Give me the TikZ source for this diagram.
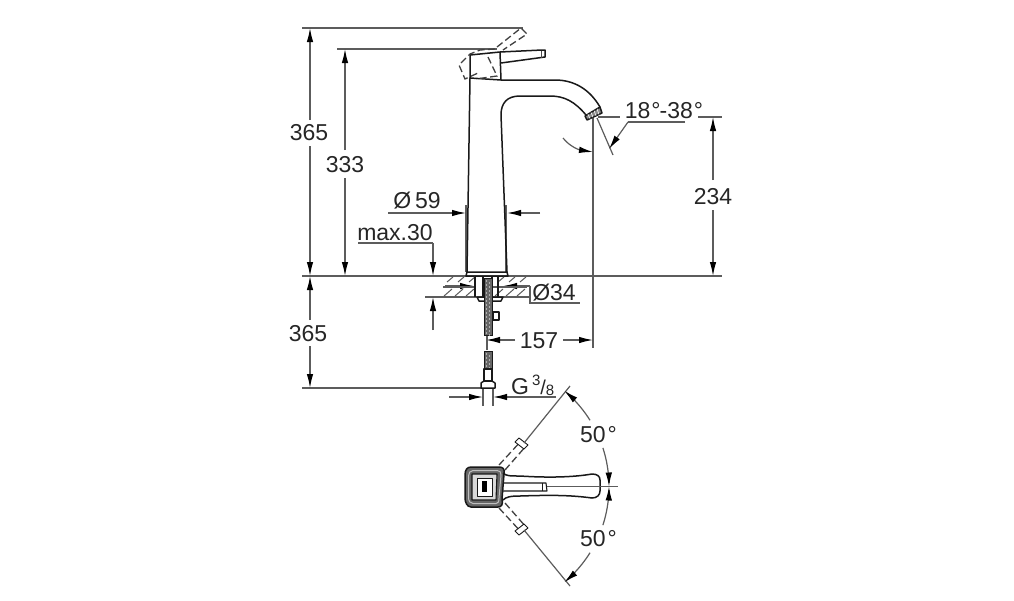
\documentclass[tikz,border=0pt]{standalone}
\usepackage{fontspec}
\setmainfont{Liberation Sans}
\usetikzlibrary{arrows.meta}
\definecolor{dimc}{gray}{0.36}
\tikzset{
 dimline/.style={draw=dimc,line width=1.2pt},
 arr/.style={dimline,-{Latex[length=14pt,width=6.5pt,color=black]}},
 part/.style={draw=black!90,line width=1.5pt,line join=round},
 ghost/.style={draw=black!75,line width=1.3pt,dash pattern=on 7pt off 3.5pt},
 lab/.style={font=\fontsize{23}{23}\selectfont,text=black!85,inner sep=0pt},
 hatchline/.style={draw=black!65,line width=1pt},
 hosepart/.style={draw=black!90,fill=black!60,line width=1pt}
}
\begin{document}
\begin{tikzpicture}[x=1pt,y=-1pt]
\useasboundingbox (0,0) rectangle (1014,600);
% extension lines
\draw[dimline] (302,28) -- (523,28);
\draw[dimline] (337,49) -- (497,49);
\draw[dimline] (302,276) -- (722,276);
\draw[dimline] (302,388) -- (482,388);
\draw[dimline] (425,297) -- (530,297);
\draw[dimline] (698,117) -- (722,117);
\draw[dimline] (598,117) -- (620,117);
\draw[dimline] (593,116) -- (593,348);
\draw[dimline] (597,118) -- (613,155);
% vertical dims
\draw[arr] (310,120) -- (310,28);
\draw[arr] (310,146) -- (310,276);
\draw[arr] (310,320) -- (310,276);
\draw[arr] (310,346) -- (310,388);
\draw[arr] (345,150) -- (345,49);
\draw[arr] (345,178) -- (345,276);
\draw[arr] (713,180) -- (713,117);
\draw[arr] (713,210) -- (713,276);
\draw[arr] (433,330) -- (433,297);
\draw[dimline] (358,243) -- (433,243);
\draw[arr] (433,243) -- (433,276);
% o59
\draw[dimline] (466,205) -- (466,272);
\draw[dimline] (506,205) -- (506,272);
\draw[arr] (388,213) -- (466,213);
\draw[arr] (540,213) -- (507,213);
% o34
\draw[arr] (445,286) -- (474,286);
\draw[arr] (530,286) -- (503,286);
\draw[dimline] (530,286) -- (530,303) -- (580,303);
% 157
\draw[arr] (515,340) -- (486,340);
\draw[arr] (563,340) -- (593,340);
% G 3/8
\draw[dimline] (483,388) -- (483,406);
\draw[dimline] (493,388) -- (493,406);
\draw[arr] (449,397) -- (483,397);
\draw[dimline] (556,397) -- (510,397);
\draw[arr] (510,397) -- (493,397);
% 18-38
\draw[dimline] (685,122) -- (628,122);
\draw[arr] (628,122) -- (609,149);
\draw[arr] (563,138) .. controls (570,147) and (580,150) .. (593,152);
% faucet
\draw[part] (467,272) -- (470,78) -- (501,80) -- (555,80) .. controls (575,80) and (590,90) .. (600,107);
\draw[part] (586,115) .. controls (575,102) and (565,96) .. (550,96) -- (520,96) .. controls (507,96) and (501,103) .. (501,115) -- (507,272);
\draw[part,fill=black!45] (585,116) -- (600,107) -- (602,113) -- (587,120) -- cycle;
\foreach \k in {0.2,0.4,0.6,0.8}
 \draw[draw=white,line width=0.6pt] ({585+15*\k},{116-9*\k}) -- ({587+15*\k},{120-7*\k});
\draw[part] (470,78) -- (470,55) -- (500,52) -- (501,80);
\draw[part] (500,52) -- (542,50) -- (545,50) -- (545,57) -- (501,63);
\draw[draw=black!70,line width=0.9pt] (541,50.5) -- (541,58);
% base
\draw[part] (467,272) -- (507,272) -- (508,276) -- (466,276) -- cycle;
% ghost handle
\draw[ghost] (495,49) -- (480,50) -- (470,54) -- (459,65) -- (465,79) -- (478,73);
\draw[ghost] (488,57) -- (497,76) -- (476,79);
\draw[ghost] (497,47) -- (521,28) -- (527,34) -- (503,50);
% counter hatch
\draw[dimline] (443,287) -- (475,287);
\draw[dimline] (492,287) -- (527,287);
\foreach \x in {447,458,469,498,509,520}{
 \draw[hatchline] (\x,282) -- (\x+6,277);
 \draw[hatchline] (\x-3,296) -- (\x+5,289);
}
% pipes below counter
\draw[part] (475,277) -- (475,297);
\draw[part] (483,277) -- (483,297);
\draw[part] (492,277) -- (492,297);
\draw[part] (498,277) -- (498,297);
\draw[part,fill=white] (477,297) -- (503,297) -- (501,301) -- (479,301) -- cycle;
\draw[hosepart] (484,278) rectangle (492,335);
\draw[part,fill=white] (493,312) rectangle (499,320);
\draw[hosepart] (484,351) rectangle (492,369);
\foreach \y in {281,285,...,333}{
 \fill[white] (486.5,\y) circle (0.7pt);
 \fill[white] (489.5,\y+2) circle (0.7pt);
}
\foreach \y in {354,358,...,367}{
 \fill[white] (486.5,\y) circle (0.7pt);
 \fill[white] (489.5,\y+2) circle (0.7pt);
}
\draw[part,fill=white] (484,369) rectangle (492,381);
\draw[part,fill=white] (481,383) -- (484,381) -- (492,381) -- (495,383) -- (495,388) -- (481,388) -- cycle;
\draw[dimline] (487,336) -- (487,350);
% top view
\draw[part,line width=1.5pt,fill=black!60] (471,467) -- (499,467) .. controls (503,467) and (505,469) .. (504,474) -- (502,499) .. controls (503,504) and (502,507) .. (498,507) -- (471,507) .. controls (467,507) and (465,502) .. (465,498) -- (465,475) .. controls (465,470) and (467,467) .. (471,467) -- cycle;
\draw[draw=black!25,line width=1pt] (473,470.5) -- (497,470.5) .. controls (500,470.5) and (501,472) .. (501,475) -- (499,498) .. controls (499,502) and (498,503.5) .. (496,503.5) -- (473,503.5) .. controls (470,503.5) and (468.5,501) .. (468.5,497) -- (468.5,476) .. controls (468.5,473) and (470,470.5) .. (473,470.5) -- cycle;
\draw[part,line width=1.1pt,fill=black!15] (472,474) -- (497,474) -- (496,500) -- (472,500) -- cycle;
\draw[part,line width=1pt,fill=white] (477,478) rectangle (492,496);
\fill[black] (482,481) rectangle (487,492);
\draw[part] (503,473) .. controls (506,476) and (510,476) .. (520,476) .. controls (550,478) and (575,477) .. (592,474) .. controls (597,474) and (600,476) .. (600,480) -- (600,491) .. controls (600,495) and (597,498) .. (592,498) .. controls (570,495) and (550,495) .. (520,496) .. controls (510,496) and (506,497) .. (503,500);
\draw[part,line width=1.1pt] (503,483) -- (546,483) -- (547,491) -- (503,491);
\draw[part,line width=0.9pt] (542,483) -- (542,491);
\draw[dimline] (547,486.5) -- (618,486.5);
% radial lines
\draw[ghost] (499,465) -- (522,440);
\draw[ghost] (505,470) -- (526,446);
\draw[part,line width=0.9pt,fill=white] (519,438) -- (528,445) -- (524,449) -- (515,442) -- cycle;
\draw[dimline] (524,443) -- (570,386);
\draw[ghost] (499,508) -- (522,533);
\draw[ghost] (505,503) -- (526,527);
\draw[part,line width=0.9pt,fill=white] (519,535) -- (528,528) -- (524,524) -- (515,531) -- cycle;
\draw[dimline] (524,530) -- (570,586);
% arcs
\draw[arr] plot[domain=18:0,samples=12] ({484+125*cos(\x)},{486.5-125*sin(\x)});
\draw[arr] plot[domain=-18:0,samples=12] ({484+125*cos(\x)},{486.5-125*sin(\x)});
\draw[arr] plot[domain=32:50,samples=12] ({484+125*cos(\x)},{486.5-125*sin(\x)});
\draw[arr] plot[domain=-32:-50,samples=12] ({484+125*cos(\x)},{486.5-125*sin(\x)});
% labels
\node[lab] (t365a) at (309,133) {365};
\node[lab] (t365b) at (308,334) {365};
\node[lab] (t333) at (345,165) {333};
\node[lab] (t234) at (713,197) {234};
\node[lab] (t59) at (417,201) {Ø\,59};
\node[lab] (tmax) at (395,233) {max.30};
\node[lab] (t34) at (554,293) {Ø34};
\node[lab] (t157) at (539,341) {157};
\node[lab,anchor=base west] (tg) at (511,394) {G\kern3pt\raisebox{9pt}{\fontsize{15}{15}\selectfont 3}{\fontsize{20}{20}\selectfont/}\raisebox{-1pt}{\fontsize{15}{15}\selectfont 8}};
\node[lab] (t18) at (664,111) {18\kern1pt°\kern-1pt-38\kern1pt°};
\node[lab] (t50a) at (598.5,435) {50\kern2pt°};
\node[lab] (t50b) at (598.5,539) {50\kern2pt°};
\end{tikzpicture}
\end{document}
